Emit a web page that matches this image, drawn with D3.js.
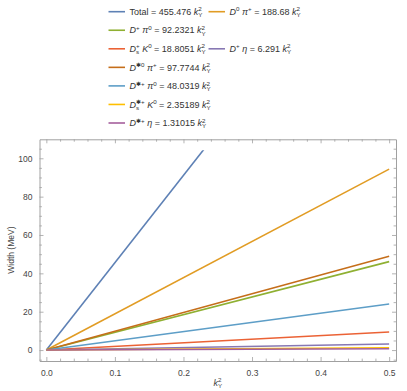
<!DOCTYPE html>
<html>
<head>
<meta charset="utf-8">
<script src="https://cdn.jsdelivr.net/npm/d3@7"></script>
<style>
  html, body { margin: 0; padding: 0; background: #fff; }
  svg { display: block; font-family: "Liberation Sans", Arial, sans-serif; }
  svg text { white-space: pre; }
</style>
</head>
<body>
<div id="chart"></div>
<script>
// Widths of each decay channel, linear in k_Y^2
const channelNames = ['Total', 'D0 pi+', 'D+ pi0', 'Ds+ K0', 'D+ eta', 'D*0 pi+', 'D*+ pi0', 'Ds*+ K0', 'D*+ eta'];
const slopes = [455.476, 188.68, 92.2321, 18.8051, 6.291, 97.7744, 48.0319, 2.35189, 1.31015];
// particle parts: [base, superscript, subscript]
const labelParts = [
    null,
    [['D', '0', ''], ['π', '+', '']],
    [['D', '+', ''], ['π', '0', '']],
    [['D', '+', 's'], ['K', '0', '']],
    [['D', '+', ''], ['η', '', '']],
    [['D', '✱0', ''], ['π', '+', '']],
    [['D', '✱+', ''], ['π', '0', '']],
    [['D', '✱+', 's'], ['K', '0', '']],
    [['D', '✱+', ''], ['η', '', '']]
];
const colors = ['#5E81B5', '#E19C24', '#8FB032', '#EB6235', '#8778B3', '#C56E1A', '#5D9EC7', '#FFBF00', '#A5609D'];

const xData = [0, 0.5];
const xMajor = [0, 0.1, 0.2, 0.3, 0.4, 0.5];
const yMajor = [0, 20, 40, 60, 80, 100];
const yClip = 104.2; // plot range top (curves are cut here)

const W = 407, H = 391;
const frame = { left: 39.5, right: 396, top: 139.3, bottom: 361 };

const svg = d3.select('#chart').append('svg')
    .attr('width', W)
    .attr('height', H);

const x = d3.scaleLinear().domain([-0.01, 0.51]).range([frame.left, frame.right]);
const y = d3.scaleLinear().domain([-5.7, 109.9]).range([frame.bottom, frame.top]);

const xMinor = d3.range(-0.0, 0.5001, 0.02).filter(v => !xMajor.some(m => Math.abs(m - v) < 1e-9));
const yMinor = d3.range(-5, 106, 5).filter(v => v % 20 !== 0);

// frame + ticks
const frameColor = '#a0a0a0';
function styleAxis(g) {
    g.select('.domain').attr('stroke', frameColor).attr('stroke-width', 1);
    g.selectAll('.tick line').attr('stroke', frameColor).attr('stroke-width', 0.8);
    g.selectAll('.tick text').attr('fill', '#444').attr('font-size', '8.5px')
        .attr('font-family', '"Liberation Sans", Arial, sans-serif');
}

const axes = [
    { gen: d3.axisBottom, scale: x, pos: `translate(0,${frame.bottom})`, major: xMajor, minor: xMinor, labels: true },
    { gen: d3.axisTop, scale: x, pos: `translate(0,${frame.top})`, major: xMajor, minor: xMinor, labels: false },
    { gen: d3.axisLeft, scale: y, pos: `translate(${frame.left},0)`, major: yMajor, minor: yMinor, labels: true },
    { gen: d3.axisRight, scale: y, pos: `translate(${frame.right},0)`, major: yMajor, minor: yMinor, labels: false }
];

axes.forEach(a => {
    const isX = a.scale === x;
    const fmt = isX ? d3.format('.1f') : d3.format('d');
    svg.append('g')
        .attr('transform', a.pos)
        .call(a.gen(a.scale).tickValues(a.major).tickSizeInner(-4).tickSizeOuter(0)
            .tickPadding(isX ? 9 : 7)
            .tickFormat(a.labels ? fmt : ''))
        .call(styleAxis);
    svg.append('g')
        .attr('transform', a.pos)
        .call(a.gen(a.scale).tickValues(a.minor).tickSizeInner(-2.4).tickSizeOuter(0).tickFormat(''))
        .call(styleAxis)
        .select('.domain').remove();
});

// clip for the curves
svg.append('defs').append('clipPath').attr('id', 'plotClip')
    .append('rect')
    .attr('x', frame.left)
    .attr('y', y(yClip))
    .attr('width', frame.right - frame.left)
    .attr('height', frame.bottom - y(yClip));

const line = d3.line().x(d => x(d[0])).y(d => y(d[1]));
const plotG = svg.append('g').attr('clip-path', 'url(#plotClip)');

slopes.forEach((s, i) => {
    plotG.append('path')
        .datum(xData.map(v => [v, s * v]))
        .attr('d', line)
        .attr('fill', 'none')
        .attr('stroke', colors[i])
        .attr('stroke-width', 1.6);
});

// axis labels
svg.append('text')
    .attr('transform', `translate(14,${(frame.top + frame.bottom) / 2}) rotate(-90)`)
    .attr('text-anchor', 'middle')
    .attr('font-size', '8.5px')
    .attr('fill', '#444')
    .text('Width (MeV)');

// rich text helper: appends pieces sequentially, measuring each
const FS = 9, SFS = 6.2;
function richText(g, x0, yb, pieces, fill) {
    let cx = x0;
    pieces.forEach(p => {
        if (p.stack) {
            let w = 0;
            if (p.sup) {
                const t = g.append('text').attr('x', cx).attr('y', yb - 3.6)
                    .attr('font-size', SFS + 'px').attr('fill', fill).text(p.sup);
                w = Math.max(w, t.node().getComputedTextLength());
            }
            if (p.sub) {
                const t = g.append('text').attr('x', cx).attr('y', yb + 2.2)
                    .attr('font-size', SFS + 'px').attr('fill', fill).text(p.sub);
                w = Math.max(w, t.node().getComputedTextLength());
            }
            cx += w;
        } else {
            const t = g.append('text').attr('x', cx).attr('y', yb)
                .attr('font-size', FS + 'px').attr('fill', fill)
                .attr('font-style', p.italic ? 'italic' : null)
                .text(p.text);
            cx += t.node().getComputedTextLength();
        }
    });
    return cx;
}

const kPieces = [{ text: 'k', italic: true }, { stack: true, sup: '2', sub: 'Y' }];

// x axis label
const kg = svg.append('g');
const kEnd = richText(kg, 0, 0, kPieces, '#444');
kg.attr('transform', `translate(${(frame.left + frame.right) / 2 - kEnd / 2},386)`);

// legend
const legendSlots = [[0, 0], [0, 1], [1, 0], [2, 0], [2, 1], [3, 0], [4, 0], [5, 0], [6, 0]];
const colX = [108.5, 208.5];
const rowY0 = 11.7, rowStep = 18.55;

const legend = svg.append('g');
slopes.forEach((s, i) => {
    const [r, c] = legendSlots[i];
    const lx = colX[c], ly = rowY0 + r * rowStep;
    legend.append('line')
        .attr('x1', lx).attr('x2', lx + 16.5)
        .attr('y1', ly).attr('y2', ly)
        .attr('stroke', colors[i]).attr('stroke-width', 1.6);
    let pieces = [];
    if (labelParts[i] === null) {
        pieces.push({ text: channelNames[i] });
    } else {
        labelParts[i].forEach((pt, k) => {
            if (k > 0) pieces.push({ text: ' ' });
            pieces.push({ text: pt[0], italic: true });
            if (pt[1] || pt[2]) pieces.push({ stack: true, sup: pt[1], sub: pt[2] });
        });
    }
    pieces.push({ text: ` = ${s} ` });
    pieces = pieces.concat(kPieces);
    richText(legend, lx + 21, ly + 3.2, pieces, '#333');
});
</script>
</body>
</html>
